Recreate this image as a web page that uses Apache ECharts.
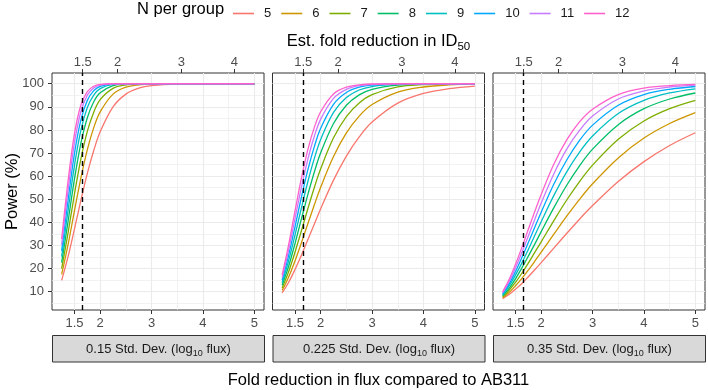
<!DOCTYPE html>
<html><head><meta charset="utf-8">
<script src="https://cdn.jsdelivr.net/npm/echarts@6/dist/echarts.min.js"></script>
<style>html,body{margin:0;padding:0;background:#fff}#c{width:708px;height:390px}</style>
</head><body><div id="c"></div>
<script>
// ---- data ----
const foldX = [1.25, 1.375, 1.5, 1.625, 1.75, 1.875, 2, 2.25, 2.5, 2.75, 3, 3.5, 4, 4.5, 5];
const groupSizes = ['5', '6', '7', '8', '9', '10', '11', '12'];
const groupColors = ['#F8766D', '#CD9600', '#7CAE00', '#00BE67', '#00BFC4', '#00A9FF', '#C77CFF', '#FF61CC'];
const panelSD = ['0.15', '0.225', '0.35'];

const power_sd015 = [
  [14.9, 25.2, 37.2, 49.6, 61.2, 71.1, 79.2, 90.0, 95.5, 98.1, 99.2, 99.9, 100, 100, 100],
  [17.5, 30.4, 45.1, 59.3, 71.5, 81.0, 87.8, 95.5, 98.5, 99.5, 99.9, 100, 100, 100, 100],
  [20.0, 35.5, 52.3, 67.5, 79.4, 87.7, 93.1, 98.0, 99.5, 99.9, 100, 100, 100, 100, 100],
  [22.6, 40.4, 58.8, 74.3, 85.3, 92.2, 96.1, 99.2, 99.9, 100, 100, 100, 100, 100, 100],
  [25.2, 45.1, 64.7, 79.9, 89.7, 95.1, 97.9, 99.7, 100, 100, 100, 100, 100, 100, 100],
  [27.7, 49.6, 69.9, 84.4, 92.8, 97.0, 98.9, 99.9, 100, 100, 100, 100, 100, 100, 100],
  [30.3, 53.9, 74.5, 88.0, 95.1, 98.2, 99.4, 100, 100, 100, 100, 100, 100, 100, 100],
  [32.8, 57.9, 78.4, 90.8, 96.6, 98.9, 99.7, 100, 100, 100, 100, 100, 100, 100, 100]
];
const power_sd0225 = [
  [9.5, 14.0, 19.6, 25.8, 32.5, 39.2, 45.9, 58.3, 68.7, 77.0, 83.4, 91.6, 95.8, 97.9, 99.0],
  [10.6, 16.3, 23.3, 31.2, 39.4, 47.5, 55.2, 68.5, 78.7, 86.0, 91.0, 96.4, 98.6, 99.5, 99.8],
  [11.6, 18.6, 27.1, 36.4, 45.9, 55.0, 63.2, 76.6, 85.8, 91.7, 95.3, 98.6, 99.6, 99.9, 100],
  [12.8, 20.9, 30.8, 41.5, 52.0, 61.7, 70.1, 82.8, 90.7, 95.2, 97.6, 99.4, 99.9, 100, 100],
  [13.9, 23.3, 34.5, 46.3, 57.6, 67.6, 75.9, 87.6, 94.0, 97.3, 98.8, 99.8, 100, 100, 100],
  [15.0, 25.6, 38.1, 50.9, 62.7, 72.7, 80.7, 91.1, 96.2, 98.5, 99.4, 99.9, 100, 100, 100],
  [16.1, 27.9, 41.6, 55.2, 67.3, 77.2, 84.7, 93.7, 97.6, 99.2, 99.7, 100, 100, 100, 100],
  [17.3, 30.2, 44.9, 59.2, 71.5, 81.0, 87.9, 95.6, 98.5, 99.5, 99.9, 100, 100, 100, 100]
];
const power_sd035 = [
  [7.0, 8.8, 11.1, 13.6, 16.5, 19.5, 22.6, 29.0, 35.3, 41.5, 47.3, 57.7, 66.3, 73.3, 78.8],
  [7.4, 9.7, 12.6, 15.8, 19.4, 23.2, 27.1, 35.0, 42.8, 50.1, 56.7, 67.9, 76.5, 82.8, 87.5],
  [7.8, 10.6, 14.1, 18.0, 22.4, 27.0, 31.6, 40.9, 49.8, 57.8, 64.8, 76.0, 83.9, 89.2, 92.8],
  [8.2, 11.5, 15.6, 20.3, 25.4, 30.6, 36.0, 46.5, 56.2, 64.6, 71.7, 82.3, 89.2, 93.4, 96.0],
  [8.6, 12.5, 17.2, 22.5, 28.3, 34.3, 40.3, 51.8, 62.0, 70.5, 77.4, 87.1, 92.8, 96.0, 97.8],
  [9.1, 13.4, 18.7, 24.8, 31.3, 37.9, 44.4, 56.7, 67.1, 75.6, 82.1, 90.7, 95.3, 97.6, 98.8],
  [9.5, 14.3, 20.3, 27.0, 34.1, 41.3, 48.4, 61.2, 71.8, 79.9, 86.0, 93.4, 96.9, 98.6, 99.4],
  [10.0, 15.3, 21.9, 29.2, 37.0, 44.7, 52.1, 65.4, 75.8, 83.6, 89.0, 95.3, 98.1, 99.2, 99.7]
];

const xTicks = [1.5, 2, 3, 4, 5];
const xMinorGrid = [2.5, 3.5, 4.5];
const yTicks = [10, 20, 30, 40, 50, 60, 70, 80, 90, 100];
const yMinorGrid = [5, 15, 25, 35, 45, 55, 65, 75, 85, 95];
const topTickPos = [1.66, 2.34, 3.58, 4.61];
const topTickLabels = ['1.5', '2', '3', '4'];
const thresholdFold = [1.66];

// ---- layout / style ----
const FONT = '"Liberation Sans", Arial, Helvetica, sans-serif';
const panelLeft = [52, 272.5, 493];
const panelW = 212, panelTop = 73, panelH = 237;
const xMin = 1.0625, xMax = 5.1875, yMin = 2.1, yMax = 104.65;
const panelPower = [power_sd015, power_sd0225, power_sd035];

const grids = [], xAxes = [], yAxes = [], series = [], graphics = [];
const tickStyle = {color: '#333333', width: 1};

for (let i = 0; i < 3; i++) {
  grids.push({left: panelLeft[i], top: panelTop, width: panelW, height: panelH,
    show: true, borderColor: '#333333', borderWidth: 1, backgroundColor: 'transparent',
    containLabel: false, outerBoundsMode: 'none'});
}
for (let i = 0; i < 3; i++) {
  grids.push({left: panelLeft[i], top: panelTop, width: panelW, height: panelH,
    show: false, containLabel: false, outerBoundsMode: 'none'});
}
for (let i = 0; i < 3; i++) {
  xAxes.push({type: 'value', gridIndex: i, position: 'bottom', min: xMin, max: xMax,
    axisLine: {show: false},
    axisTick: {show: true, customValues: xTicks, length: 4, lineStyle: tickStyle},
    axisLabel: {show: true, customValues: xTicks, margin: 7, fontSize: 13, color: '#4d4d4d', fontFamily: FONT},
    splitLine: {show: true, lineStyle: {color: '#ebebeb', width: 1.1}}});
  xAxes.push({type: 'value', gridIndex: i, position: 'top', min: xMin, max: xMax,
    axisLine: {show: false},
    axisTick: {show: true, customValues: topTickPos, length: 4, lineStyle: tickStyle},
    axisLabel: {show: true, customValues: topTickPos, margin: 4, fontSize: 13, color: '#4d4d4d', fontFamily: FONT,
      formatter: function (v) {
        let b = 0;
        for (let k = 1; k < topTickPos.length; k++) if (Math.abs(topTickPos[k] - v) < Math.abs(topTickPos[b] - v)) b = k;
        return topTickLabels[b];
      }},
    splitLine: {show: false}});
  yAxes.push({type: 'value', gridIndex: i, min: yMin, max: yMax,
    axisLine: {show: false},
    axisTick: {show: i === 0, customValues: yTicks, length: 4, lineStyle: tickStyle},
    axisLabel: {show: i === 0, customValues: yTicks, margin: 8, fontSize: 13, color: '#4d4d4d', fontFamily: FONT},
    splitLine: {show: true, lineStyle: {color: '#ebebeb', width: 1.1}}});
}
for (let i = 0; i < 3; i++) {
  xAxes.push({type: 'value', gridIndex: 3 + i, position: 'bottom', min: xMin, max: xMax,
    axisLine: {show: false}, axisTick: {show: false, customValues: xMinorGrid},
    axisLabel: {show: false, customValues: xMinorGrid},
    splitLine: {show: true, lineStyle: {color: '#ededed', width: 0.7}}});
  yAxes.push({type: 'value', gridIndex: 3 + i, min: yMin, max: yMax,
    axisLine: {show: false}, axisTick: {show: false, customValues: yMinorGrid},
    axisLabel: {show: false, customValues: yMinorGrid},
    splitLine: {show: true, lineStyle: {color: '#ededed', width: 0.7}}});
}

for (let i = 0; i < 3; i++) {
  const rows = panelPower[i];
  for (let g = 0; g < groupSizes.length; g++) {
    const s = {
      type: 'line', name: groupSizes[g], xAxisIndex: 2 * i, yAxisIndex: i,
      data: foldX.map((x, k) => [x, rows[g][k]]),
      showSymbol: false, symbol: 'none', smooth: 0.35,
      lineStyle: {width: 1.3, color: groupColors[g]}, itemStyle: {color: groupColors[g]},
      emphasis: {disabled: true}, silent: true, z: 2
    };
    if (g === groupSizes.length - 1) {
      s.markLine = {silent: true, symbol: ['none', 'none'], animation: false,
        label: {show: false},
        lineStyle: {type: [5, 4], color: '#000000', width: 1.4},
        data: thresholdFold.map(v => ({xAxis: v}))};
    }
    series.push(s);
  }
  // strip
  graphics.push({type: 'rect', shape: {x: panelLeft[i] + 0.5, y: 335.5, width: panelW, height: 26.5},
    style: {fill: '#d9d9d9', stroke: '#333333', lineWidth: 1}, silent: true});
  graphics.push({type: 'text', x: panelLeft[i] + panelW / 2 + 0.5, y: 349, silent: true,
    style: {text: panelSD[i] + ' Std. Dev. (log{sub|10} flux)', fontSize: 13, fontFamily: FONT, fill: '#1a1a1a',
      align: 'center', verticalAlign: 'middle', lineHeight: 18,
      rich: {sub: {fontSize: 9, fontFamily: FONT, fill: '#1a1a1a', lineHeight: 9, verticalAlign: 'bottom'}}}});
}

graphics.push({type: 'text', x: 12, y: 191.5, rotation: Math.PI / 2, silent: true,
  style: {text: 'Power (%)', fontSize: 16.5, fontFamily: FONT, fill: '#000', align: 'center', verticalAlign: 'middle'}});
graphics.push({type: 'text', x: 378.5, y: 380, silent: true,
  style: {text: 'Fold reduction in flux compared to AB311', fontSize: 16.5, fontFamily: FONT, fill: '#000', align: 'center', verticalAlign: 'middle'}});
graphics.push({type: 'text', x: 378.5, y: 41, silent: true,
  style: {text: 'Est. fold reduction in ID{sub|50}', fontSize: 16.5, fontFamily: FONT, fill: '#000',
    align: 'center', verticalAlign: 'middle', lineHeight: 24,
    rich: {sub: {fontSize: 11.5, fontFamily: FONT, fill: '#000', lineHeight: 12, verticalAlign: 'bottom'}}}});
graphics.push({type: 'text', x: 137, y: 9, silent: true,
  style: {text: 'N per group', fontSize: 16.5, fontFamily: FONT, fill: '#000', align: 'left', verticalAlign: 'middle'}});

const chart = echarts.init(document.getElementById('c'), null, {renderer: 'canvas'});
chart.setOption({
  animation: false,
  backgroundColor: '#ffffff',
  grid: grids, xAxis: xAxes, yAxis: yAxes, series: series,
  legend: {data: groupSizes, left: 228, top: 2, orient: 'horizontal', icon: 'rect',
    itemWidth: 21, itemHeight: 1.6, itemGap: 10, selectedMode: false,
    textStyle: {fontSize: 13, color: '#1a1a1a', fontFamily: FONT, padding: [0, 0, 0, 5]}},
  graphic: graphics
});
</script></body></html>
